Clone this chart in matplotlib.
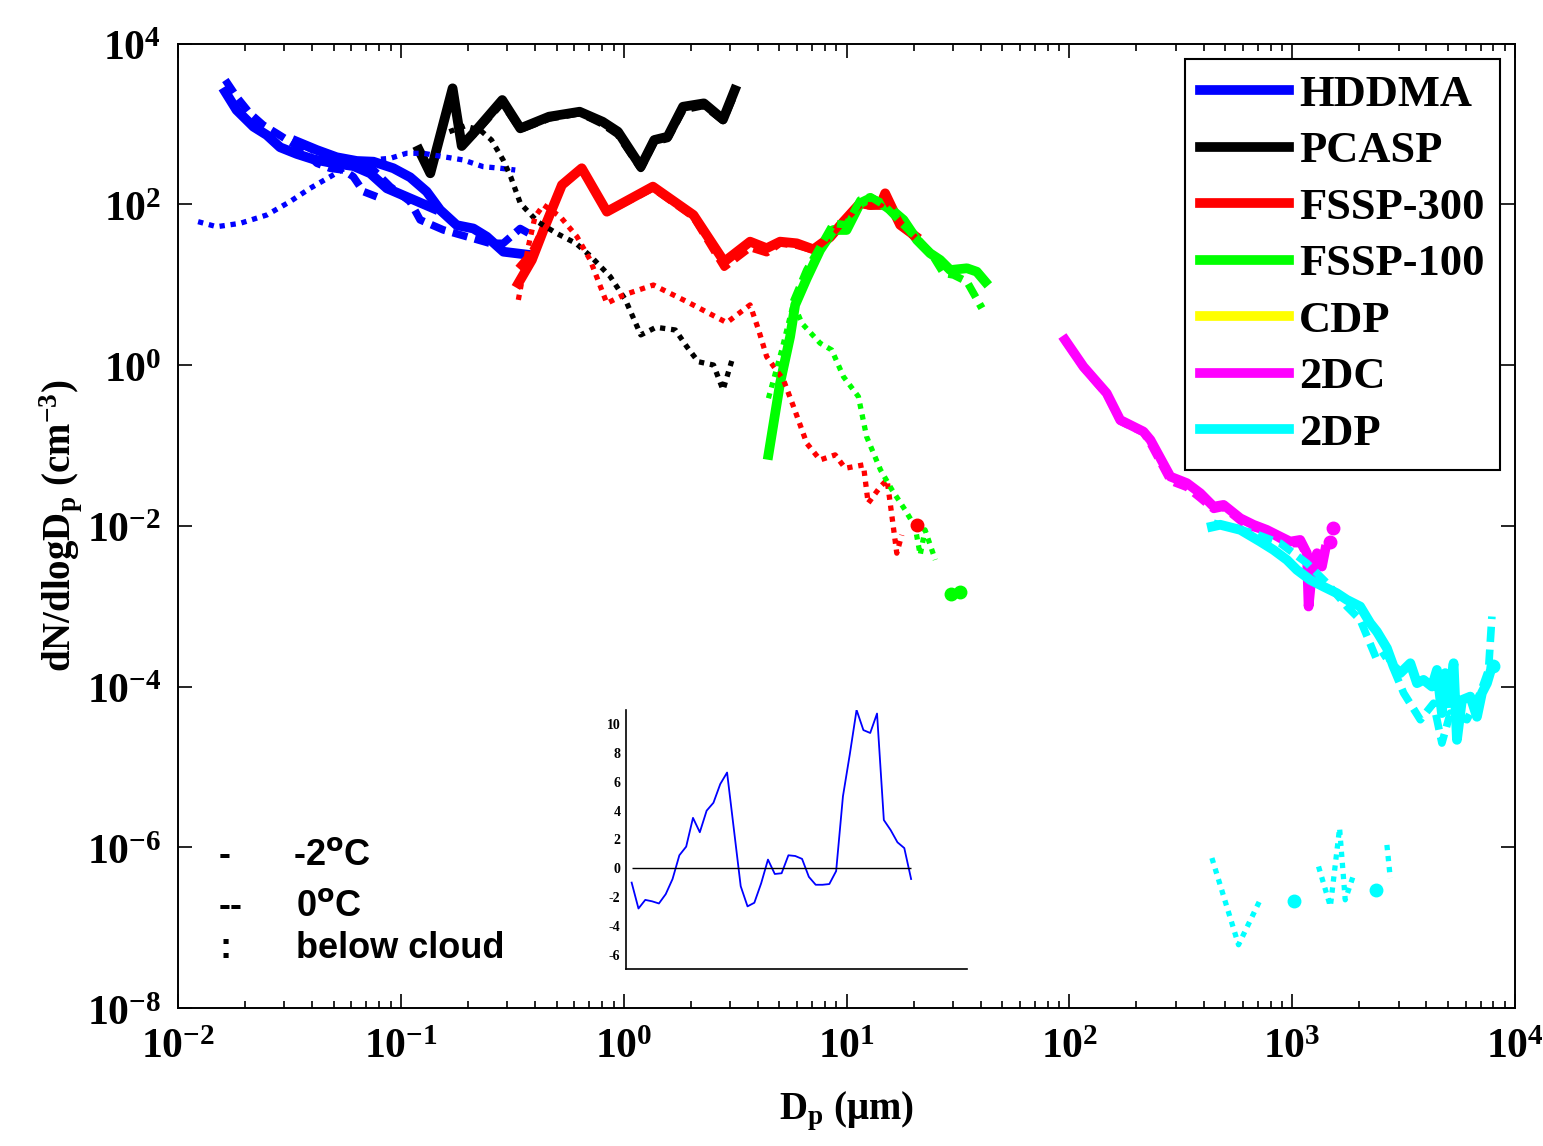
import numpy as np
import matplotlib
matplotlib.use('Agg')
import matplotlib.pyplot as plt
from matplotlib.ticker import FixedLocator, FuncFormatter, LogLocator, NullLocator, NullFormatter
from matplotlib.font_manager import FontProperties

plt.rcParams['mathtext.fontset'] = 'custom'
plt.rcParams['mathtext.rm'] = 'Liberation Serif:bold'
plt.rcParams['mathtext.bf'] = 'Liberation Serif:bold'
plt.rcParams['mathtext.it'] = 'Liberation Serif:bold:italic'
plt.rcParams['axes.unicode_minus'] = False

# ---- HDDMA ----
hddma_d_a = [0.0163, 0.0183, 0.0218, 0.0250, 0.0287, 0.0341, 0.0405, 0.0498, 0.0612, 0.0728, 0.0865, 0.106, 0.140]
hddma_n_a = [2500, 1490, 923, 728, 512, 423, 363, 324, 299, 243, 158, 124, 89]
hddma_d_b = [0.0341, 0.0420, 0.0515, 0.0634, 0.0753, 0.0925, 0.110, 0.1305, 0.150, 0.178, 0.2115, 0.243, 0.2885, 0.380]
hddma_n_b = [601, 473, 385, 346, 339, 281, 217, 144, 85, 55, 50, 39.5, 25.7, 23.4]
hddma0_d_a = [0.0163, 0.0183, 0.0210, 0.0241, 0.0277, 0.0318, 0.0365, 0.0420, 0.0481, 0.0552, 0.0612, 0.0679, 0.078]
hddma0_n_a = [3515, 2178, 1355, 968, 764, 601, 473, 324, 281, 267, 220, 144, 124]
hddma0_d_b = [0.0353, 0.0449, 0.0571, 0.0728, 0.0895, 0.110, 0.122, 0.155, 0.198, 0.251, 0.288, 0.343, 0.387]
hddma0_n_b = [574, 410, 339, 294, 166, 108, 64, 48, 39.5, 32.7, 32.7, 50, 41.5]
hddma_bc_d = [0.0123, 0.0149, 0.0190, 0.0250, 0.0318, 0.0391, 0.0481, 0.0592, 0.0728, 0.0895, 0.106, 0.126,
              0.155, 0.1905, 0.234, 0.279, 0.326]
hddma_bc_n = [60.8, 52.6, 58, 73.6, 108, 158, 220, 308, 356, 373, 431, 431, 391, 356, 294, 281, 267]

# ---- PCASP ----
pcasp_d = [0.1205, 0.1355, 0.1706, 0.1875, 0.218, 0.285, 0.3435, 0.462, 0.634, 0.804, 0.942, 1.193, 1.371,
           1.574, 1.845, 2.29, 2.79, 3.15]
pcasp_n = [473, 243, 2773, 531, 839, 1983, 881, 1231, 1419, 1065, 800, 294, 631, 693, 1636, 1803, 1140, 2642]
pcasp0_d = [0.19, 0.218, 0.285, 0.3435, 0.462, 0.634, 0.804, 0.942, 1.193, 1.371, 1.574, 1.845, 2.29, 2.79, 3.15]
pcasp0_n = [560, 800, 1850, 860, 1180, 1380, 1000, 740, 280, 600, 660, 1500, 1700, 1100, 2400]
pcasp_bc_d = [0.165, 0.1935, 0.2266, 0.255, 0.2876, 0.311, 0.3435, 0.410, 0.500, 0.610, 0.714, 0.870, 1.018,
              1.193, 1.397, 1.705, 1.92, 2.16, 2.53, 2.79, 3.08]
pcasp_bc_n = [800, 942, 839, 631, 356, 220, 103, 60.8, 43.5, 32.7, 22.3, 12.6, 6.46, 2.37, 2.95, 2.73, 1.69,
              1.10, 1.0, 0.49, 1.22]

# ---- FSSP-300 ----
f300_d = [0.3365, 0.387, 0.4365, 0.528, 0.648, 0.840, 1.352, 2.055, 2.825, 3.69, 4.38, 5.03, 5.98, 7.10, 8.43,
          9.68, 11.5, 12.8, 14.2, 14.9, 17.4, 20.3]
f300_n = [10.4, 20.3, 47.9, 174, 281, 80.9, 166, 73.6, 19.3, 34.3, 28.4, 34.3, 32.7, 27.5, 38.9, 60.8, 103, 98,
          98, 137, 55.4, 40.4]
f300_0_n = [16, 25, 50, 170, 275, 80, 160, 70, 16.5, 29, 25, 33, 31, 27, 40, 62, 100, 95, 100, 125, 58, 38]
f300_bc_d = [0.3365, 0.373, 0.400, 0.4365, 0.519, 0.617, 0.707, 0.840, 1.0, 1.358, 1.92, 2.90, 3.69, 4.03,
             4.38, 5.21, 5.78, 6.63, 7.61, 8.89, 9.86, 11.9, 12.5, 14.2, 15.2, 15.7, 16.8, 17.7]
f300_bc_n = [6.46, 29.7, 70.2, 98, 70.2, 39.5, 20.3, 5.87, 7.45, 9.9, 6.15, 3.37, 5.60, 2.73, 1.27, 0.653,
             0.304, 0.106, 0.066, 0.0762, 0.052, 0.0572, 0.0191, 0.0308, 0.0372, 0.0191, 0.00456, 0.0077]
f300_pt_d = [20.6]
f300_pt_n = [0.0103]

# ---- FSSP-100 ----
f100_d = [4.46, 5.03, 5.58, 5.88, 6.63, 7.61, 8.73, 10.0, 11.5, 12.8, 14.2, 16.3, 18.0, 20.7, 23.7, 26.3,
          29.2, 34.7, 38.4, 41.9]
f100_n = [0.0762, 0.594, 2.25, 5.60, 12.0, 27.0, 47.9, 47.9, 103, 119, 103, 80.9, 64, 36, 24.6, 20.3, 15.2,
          16.0, 14.5, 10.9]
f100_0_d = [5.78, 6.63, 7.61, 8.73, 10.0, 11.5, 12.8, 14.7, 17.4, 20.7, 24.5, 27.2, 30.2, 34.7, 40.5]
f100_0_n = [6.15, 15.2, 29.7, 58, 55.4, 113, 124, 98, 60.8, 37.8, 22.3, 13.9, 13.2, 10.9, 5.1]
f100_bc_d = [4.46, 5.12, 5.78, 6.30, 7.61, 8.58, 9.68, 11.3, 12.3, 14.2, 16.0, 18.3, 20.3, 21.4, 22.5, 25.0]
f100_bc_n = [0.386, 1.54, 5.87, 3.31, 1.87, 1.54, 0.718, 0.405, 0.1285, 0.0496, 0.0279, 0.0158, 0.00977,
             0.00434, 0.0089, 0.00377]
f100_pt_d = [29.4, 32.4]
f100_pt_n = [0.00141, 0.00148]

# ---- CDP (no data in this case) ----
cdp_d = []
cdp_n = []

# ---- 2DC ----
tdc_d = [95.7, 115.6, 147, 169, 215, 231, 284, 337, 387, 444, 492, 585, 670, 769, 883, 980, 1086, 1164, 1184,
         1225, 1291, 1359, 1406]
tdc_n = [2.05, 0.955, 0.446, 0.2075, 0.1486, 0.117, 0.0409, 0.0339, 0.0254, 0.0173, 0.0182, 0.0124, 0.0103,
         0.0089, 0.00734, 0.00636, 0.00667, 0.00456, 0.00099, 0.00257, 0.00456, 0.00311, 0.00501]
tdc0_d = [95.7, 115.6, 147, 169, 215, 231, 284, 337, 387, 444, 492, 585, 670, 769, 883, 980, 1086, 1164, 1225, 1291]
tdc0_n = [2.0, 0.93, 0.43, 0.20, 0.145, 0.105, 0.036, 0.030, 0.022, 0.016, 0.017, 0.0115, 0.0095, 0.0085,
          0.0068, 0.0060, 0.0060, 0.0042, 0.0030, 0.0040]
tdc_pt_d = [1483, 1531]
tdc_pt_n = [0.00636, 0.00933]

# ---- 2DP ----
tdp_d = [436, 475, 585, 718, 824, 946, 1049, 1205, 1381, 1586, 1759, 2018, 2238, 2398, 2660, 2851, 3055, 3388,
         3629, 3883, 4236, 4460, 4695, 4860, 5031, 5297, 5484, 5775, 6295, 6745, 7100, 7480, 7870]
tdp_n = [0.00977, 0.0103, 0.0089, 0.00636, 0.00501, 0.00377, 0.00283, 0.00212, 0.00175, 0.00145, 0.0012,
         0.00099, 0.000615, 0.000483, 0.0003, 0.000177, 0.000147, 0.000195, 0.00011, 0.000121, 0.0001, 0.000161,
         4.67e-5, 0.000147, 6.2e-5, 0.000195, 2.17e-5, 6.8e-5, 7.5e-5, 4.2e-5, 8.3e-5, 0.00011, 0.000177]
tdp0_d = [444, 670, 883, 1164, 1432, 1759, 2018, 2398, 2660, 3162, 3758, 4306, 4695, 5120, 6080, 6980, 7600, 7870]
tdp0_n = [0.01076, 0.0081, 0.00607, 0.00342, 0.00193, 0.00099, 0.000676, 0.000215, 0.00026, 8.3e-5, 3.86e-5,
          6.2e-5, 1.98e-5, 4.67e-5, 3.86e-5, 8.3e-5, 0.000161, 0.000743]
tdp_bc_d = [436, 574, 718, np.nan, 1312, 1483, 1631, 1729, 1897, np.nan, 2660, 2754]
tdp_bc_n = [7.35e-7, 6.12e-8, 2.22e-7, np.nan, 5.77e-7, 1.84e-7, 1.73e-6, 2.22e-7, 4.77e-7, np.nan, 1.07e-6, 4.14e-7]
tdp_pt_d = [1021, 2382, 7950]
tdp_pt_n = [2.16e-7, 2.96e-7, 1.8e-4]

# ---- inset: difference curve ----
inset_vals = [-1.0, -2.8, -2.2, -2.3, -2.45, -1.8, -0.75, 0.9, 1.5, 3.5, 2.5, 4.0, 4.55, 5.85, 6.65, 2.7,
              -1.25, -2.65, -2.4, -1.05, 0.6, -0.4, -0.35, 0.9, 0.85, 0.65, -0.6, -1.15, -1.15, -1.1, -0.2,
              5.0, 7.9, 11.0, 9.6, 9.4, 10.75, 3.35, 2.65, 1.8, 1.4, -0.75]

colors = {'HDDMA': '#0000ff', 'PCASP': '#000000', 'FSSP-300': '#ff0000', 'FSSP-100': '#00ff00',
          'CDP': '#ffff00', '2DC': '#ff00ff', '2DP': '#00ffff'}

LW_SOLID = 7
LW_DASH = 5.5
LW_DOT = 3.8
DASH = (0, (2.0, 1.0))
DOT = (0, (1, 1.1))

fig = plt.figure(figsize=(15.43, 11.46), dpi=100)
ax = fig.add_axes([0.1154, 0.1204, 0.8665, 0.8416])


def solid(d, n, name, label=None):
    return ax.plot(d, n, '-', color=colors[name], lw=LW_SOLID, label=label, solid_joinstyle='round')[0]


def dashed(d, n, name):
    ax.plot(d, n, color=colors[name], lw=LW_DASH, linestyle=DASH)


def dotted(d, n, name):
    ax.plot(d, n, color=colors[name], lw=LW_DOT, linestyle=DOT)


def dots(d, n, name):
    ax.plot(d, n, 'o', color=colors[name], ms=9, mec=colors[name])


# -2 C solid lines
h = []
h.append(solid(hddma_d_a, hddma_n_a, 'HDDMA', 'HDDMA'))
solid(hddma_d_b, hddma_n_b, 'HDDMA')
h.append(solid(pcasp_d, pcasp_n, 'PCASP', 'PCASP'))
h.append(solid(f300_d, f300_n, 'FSSP-300', 'FSSP-300'))
h.append(solid(f100_d, f100_n, 'FSSP-100', 'FSSP-100'))
h.append(solid(cdp_d, cdp_n, 'CDP', 'CDP'))
h.append(solid(tdc_d, tdc_n, '2DC', '2DC'))
h.append(solid(tdp_d, tdp_n, '2DP', '2DP'))

# 0 C dashed lines
dashed(hddma0_d_a, hddma0_n_a, 'HDDMA')
dashed(hddma0_d_b, hddma0_n_b, 'HDDMA')
dashed(pcasp0_d, pcasp0_n, 'PCASP')
dashed(f300_d, f300_0_n, 'FSSP-300')
dashed(f100_0_d, f100_0_n, 'FSSP-100')
dashed(tdc0_d, tdc0_n, '2DC')
dashed(tdp0_d, tdp0_n, '2DP')

# below cloud dotted lines
dotted(hddma_bc_d, hddma_bc_n, 'HDDMA')
dotted(pcasp_bc_d, pcasp_bc_n, 'PCASP')
dotted(f300_bc_d, f300_bc_n, 'FSSP-300')
dotted(f100_bc_d, f100_bc_n, 'FSSP-100')
dotted(tdp_bc_d, tdp_bc_n, '2DP')

# isolated bins
dots(f300_pt_d, f300_pt_n, 'FSSP-300')
dots(f100_pt_d, f100_pt_n, 'FSSP-100')
dots(tdc_pt_d, tdc_pt_n, '2DC')
dots(tdp_pt_d, tdp_pt_n, '2DP')

ax.set_xscale('log')
ax.set_yscale('log')
ax.set_xlim(1e-2, 1e4)
ax.set_ylim(1e-8, 1e4)

exp_fmt = FuncFormatter(lambda v, p: r'$\mathbf{10^{%d}}$' % int(round(np.log10(v))))
ax.xaxis.set_major_locator(FixedLocator(10.0 ** np.arange(-2, 5)))
ax.xaxis.set_minor_locator(LogLocator(base=10, subs=np.arange(2, 10), numticks=100))
ax.xaxis.set_minor_formatter(NullFormatter())
ax.xaxis.set_major_formatter(exp_fmt)
ax.yaxis.set_major_locator(FixedLocator(10.0 ** np.arange(-8, 5, 2)))
ax.yaxis.set_minor_locator(NullLocator())
ax.yaxis.set_major_formatter(exp_fmt)
ax.tick_params(which='both', direction='in', top=True, right=True, width=1.2, labelsize=30)
ax.tick_params(which='major', length=10)
ax.tick_params(which='minor', length=5)
ax.tick_params(axis='x', which='major', pad=12)
ax.tick_params(axis='y', which='major', pad=12)
for s in ax.spines.values():
    s.set_linewidth(1.4)

ax.set_xlabel(r'$\mathbf{D_p\ (μm)}$', fontsize=28)
ax.set_ylabel(r'$\mathbf{dN/dlogD_p\ (cm^{-3})}$', fontsize=28)
ax.xaxis.set_label_coords(0.5, -0.085)
ax.yaxis.set_label_coords(-0.07, 0.5)

leg_font = FontProperties(family='Liberation Serif', weight='bold', size=32)
leg = ax.legend(handles=h, loc='upper right', bbox_to_anchor=(0.9888, 0.984), borderaxespad=0,
                prop=leg_font, handlelength=2.0, handletextpad=0.22, labelspacing=0.37,
                borderpad=0.35, fancybox=False, framealpha=1, edgecolor='black')
leg.get_frame().set_linewidth(1.5)

# line style key
key_font = dict(fontsize=26, fontweight='bold', family='Liberation Sans', transform=ax.transAxes,
                va='baseline', math_fontfamily='dejavusans')
ax.text(0.0307, 0.1483, '-', **key_font)
ax.text(0.086, 0.1483, r'-2$^{\mathbf{o}}$C', **key_font)
ax.text(0.0307, 0.0954, '--', **key_font)
ax.text(0.0883, 0.0954, r'0$^{\mathbf{o}}$C', **key_font)
ax.text(0.0307, 0.0518, ':', **key_font)
ax.text(0.0883, 0.0518, 'below cloud', **key_font)

# inset
ax_in = fig.add_axes([0.4057, 0.1545, 0.221, 0.226])
idx = np.arange(len(inset_vals))
ax_in.plot(idx, inset_vals, color='#0000ff', lw=1.3)
ax_in.hlines(0, idx[0], idx[-1], color='black', lw=1.0)
ax_in.set_xlim(-0.83, 49.2)
ax_in.set_ylim(-7, 11)
ax_in.set_xticks([])
ax_in.set_yticks(np.arange(-6, 11, 2))
ax_in.set_yticklabels([str(v) for v in np.arange(-6, 11, 2)], family='Liberation Serif',
                      fontweight='bold', fontsize=10)
ax_in.tick_params(axis='y', length=0, pad=4)
ax_in.spines['top'].set_visible(False)
ax_in.spines['right'].set_visible(False)
for s in ('left', 'bottom'):
    ax_in.spines[s].set_linewidth(1.2)
ax_in.patch.set_alpha(0)

fig.savefig('out.png', dpi=100)
